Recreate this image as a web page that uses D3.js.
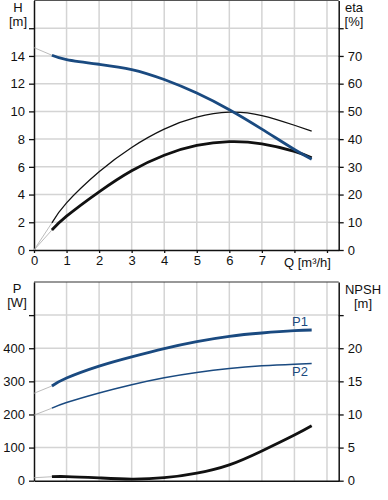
<!DOCTYPE html>
<html>
<head>
<meta charset="utf-8">
<script src="https://cdn.jsdelivr.net/npm/d3@7"></script>
<style>
  body { margin: 0; background: #fff; }
  svg text { font-family: "Liberation Sans", Arial, sans-serif; font-size: 13px; fill: #111; }
  .grid line { stroke: #d4d4d4; stroke-width: 1.5; }
  .axis path, .axis line { stroke: #111; }
</style>
</head>
<body>
<div id="chart"></div>
<script>
// Flow rate sample points (m3/h)
const flow = [0.55, 1, 2, 3, 4, 5, 6, 7, 8, 8.53];

// Top chart: head (m) and efficiencies (%)
const head = [14.05, 13.74, 13.4, 13.02, 12.3, 11.32, 10.12, 8.72, 7.25, 6.55];
const etaPump = [9.8, 17.0, 28.2, 37.0, 43.6, 47.9, 49.7, 48.5, 45.0, 42.9];
const etaTotal = [7.2, 12.2, 21.0, 28.6, 34.2, 37.7, 39.1, 38.3, 35.6, 33.3];

// Bottom chart: power (W) and NPSH (m)
const powerP1 = [286, 310, 346, 374, 399, 420, 436, 446, 453, 455];
const powerP2 = [219, 236, 265, 290, 311, 327, 339, 347, 352, 354];
const npsh = [0.6, 0.62, 0.42, 0.25, 0.45, 1.15, 2.4, 4.5, 6.9, 8.3];

// Values at Q = 0 for the thin grey extensions
const headAtZero = 14.6;
const etaAtZero = 0;
const p1AtZero = 264;
const p2AtZero = 198;
const npshAtZero = 0.45;

// Tick values
const qTicks = [0, 1, 2, 3, 4, 5, 6, 7, 8, 9];
const hTicks = [0, 2, 4, 6, 8, 10, 12, 14, 16];
const etaTicks = [0, 10, 20, 30, 40, 50, 60, 70, 80];
const pTicks = [0, 100, 200, 300, 400, 500];
const npshTicks = [0, 5, 10, 15, 20, 25];

const W = 388, H = 500;
const left = 34, right = 338.7;
const blue = "#1a4a80";

const svg = d3.select("#chart").append("svg")
    .attr("width", W)
    .attr("height", H);

const x = d3.scaleLinear().domain([0, 9.36]).range([left, right]);

// Top chart scales
const topY0 = 250, topY1 = 0.5;
const yH = d3.scaleLinear().domain([0, 18]).range([topY0, topY1]);
const yEta = d3.scaleLinear().domain([0, 90]).range([topY0, topY1]);

// Bottom chart scales
const botY0 = 480.7, botY1 = 282;
const yP = d3.scaleLinear().domain([0, 600]).range([botY0, botY1]);
const yN = d3.scaleLinear().domain([0, 30]).range([botY0, botY1]);

function drawGrid(yScale, ticks, y0, y1) {
    const g = svg.append("g").attr("class", "grid");
    g.selectAll(".v")
        .data(qTicks.filter(d => d > 0))
        .enter().append("line")
        .attr("x1", d => x(d)).attr("x2", d => x(d))
        .attr("y1", y1).attr("y2", y0);
    g.selectAll(".h")
        .data(ticks.filter(d => d > 0))
        .enter().append("line")
        .attr("x1", left).attr("x2", right)
        .attr("y1", d => yScale(d)).attr("y2", d => yScale(d));
}

drawGrid(yH, hTicks, topY0, topY1);
drawGrid(yP, pTicks, botY0, botY1);

// Frames
svg.append("line").attr("x1", left).attr("x2", right).attr("y1", topY1).attr("y2", topY1)
    .attr("stroke", "#555").attr("stroke-width", 1);
svg.append("line").attr("x1", left).attr("x2", right).attr("y1", botY1).attr("y2", botY1)
    .attr("stroke", "#333").attr("stroke-width", 1.2);

// Axes
function axis(gen, tx, ty) {
    const g = svg.append("g")
        .attr("class", "axis")
        .attr("transform", `translate(${tx},${ty})`)
        .call(gen);
    g.select(".domain").attr("stroke-width", 1.5);
    g.selectAll(".tick line").attr("stroke-width", 1.3);
    return g;
}

const blankAt = v => d => (d === v ? "" : d);

axis(d3.axisLeft(yH).tickValues(hTicks).tickSize(5).tickSizeOuter(0).tickPadding(4).tickFormat(blankAt(16)), left, 0);
axis(d3.axisRight(yEta).tickValues(etaTicks).tickSize(5).tickSizeOuter(0).tickPadding(4).tickFormat(blankAt(80)), right, 0);
axis(d3.axisBottom(x).tickValues(qTicks).tickSize(3).tickSizeOuter(0).tickPadding(3)
    .tickFormat(d => (d <= 7 ? d : "")), 0, topY0);

axis(d3.axisLeft(yP).tickValues(pTicks).tickSize(5).tickSizeOuter(0).tickPadding(4).tickFormat(blankAt(500)), left, 0);
axis(d3.axisRight(yN).tickValues(npshTicks).tickSize(5).tickSizeOuter(0).tickPadding(4).tickFormat(blankAt(25)), right, 0);
axis(d3.axisBottom(x).tickValues(qTicks).tickSize(0).tickSizeOuter(0).tickFormat(""), 0, botY0);

svg.selectAll(".axis text").style("font-size", "13px").attr("fill", "#111");

// Unit labels
const labels = [
    { t: "H", x: 18, y: 12 }, { t: "[m]", x: 18, y: 26 },
    { t: "eta", x: 354, y: 12 }, { t: "[%]", x: 354, y: 26 },
    { t: "P", x: 17, y: 293 }, { t: "[W]", x: 17, y: 307 },
    { t: "NPSH", x: 363, y: 294 }, { t: "[m]", x: 363, y: 308 }
];
svg.selectAll(".unit")
    .data(labels)
    .enter().append("text")
    .attr("class", "unit")
    .attr("x", d => d.x).attr("y", d => d.y)
    .attr("text-anchor", "middle")
    .text(d => d.t);

svg.append("text")
    .attr("x", 284).attr("y", 267)
    .text("Q [m³/h]");

// Curves
function curve(values, yScale, color, width, zero) {
    const pts = flow.map((q, i) => [q, values[i]]);
    svg.append("path")
        .datum([[0, zero], pts[0]])
        .attr("fill", "none")
        .attr("stroke", "#aaa")
        .attr("stroke-width", 0.8)
        .attr("d", d3.line().x(d => x(d[0])).y(d => yScale(d[1])));
    svg.append("path")
        .datum(pts)
        .attr("fill", "none")
        .attr("stroke", color)
        .attr("stroke-width", width)
        .attr("stroke-linecap", "butt")
        .attr("d", d3.line().curve(d3.curveNatural).x(d => x(d[0])).y(d => yScale(d[1])));
}

curve(etaPump, yEta, "#111", 1.3, etaAtZero);
curve(etaTotal, yEta, "#111", 2.8, etaAtZero);
curve(head, yH, blue, 2.8, headAtZero);

curve(powerP2, yP, blue, 1.5, p2AtZero);
curve(powerP1, yP, blue, 2.8, p1AtZero);
curve(npsh, yN, "#111", 2.8, npshAtZero);

svg.append("text").attr("x", 300).attr("y", 326).attr("text-anchor", "middle")
    .style("fill", blue).text("P1");
svg.append("text").attr("x", 300).attr("y", 376).attr("text-anchor", "middle")
    .style("fill", blue).text("P2");
</script>
</body>
</html>
